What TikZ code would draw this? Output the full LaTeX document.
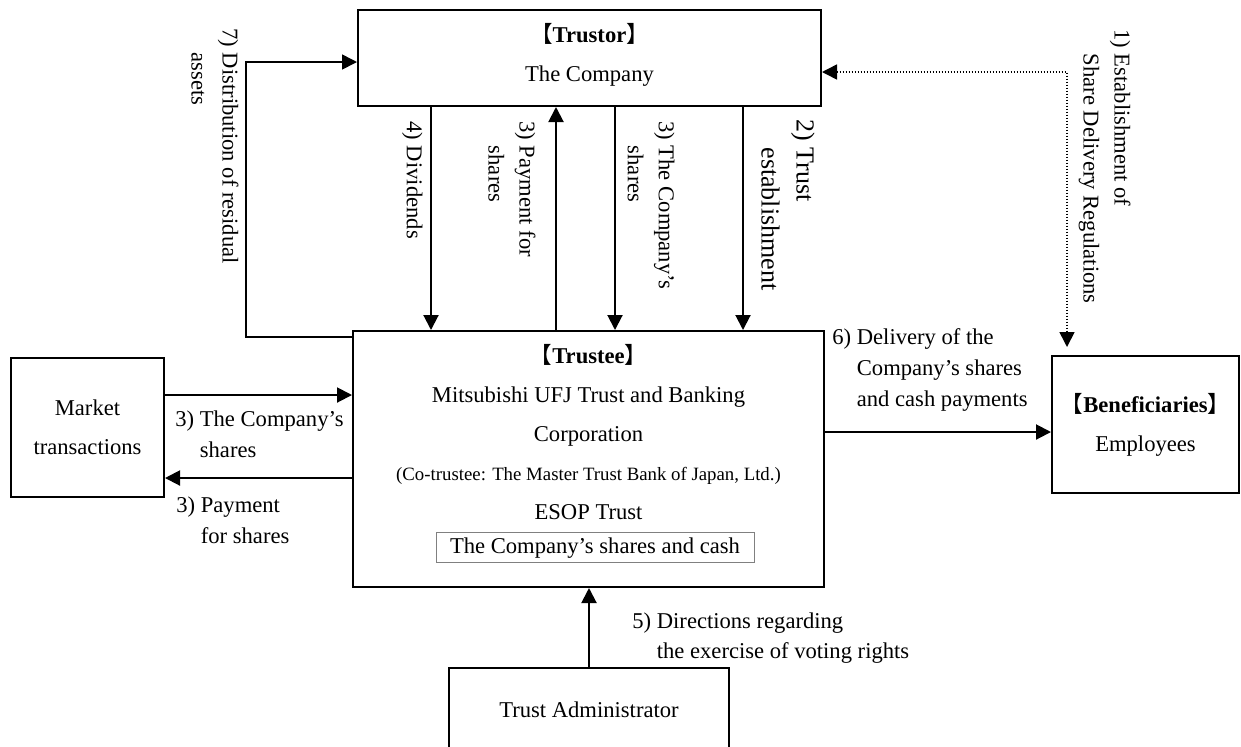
\documentclass[tikz,border=0pt]{standalone}
\usepackage{fontspec}
\setmainfont{Liberation Serif}
\newfontfamily\cjk[RawFeature=+halt]{Noto Sans CJK JP}
\usetikzlibrary{arrows.meta}
\usetikzlibrary{positioning}
\newcommand{\role}[1]{{\cjk 【}\textbf{#1}{\cjk 】}}

\begin{document}
\begin{tikzpicture}[x=0.5pt,y=-0.5pt,
  box/.style={draw,line width=1pt,align=center,inner sep=0pt,font=\fontsize{11.3}{19.5}\selectfont},
  boxtext/.style={align=center,inner sep=0pt,font=\fontsize{11.3}{19.5}\selectfont},
  arr/.style={line width=1pt,-{Triangle[length=7.5pt,width=7.5pt]}},
  dots/.style={line width=0.8pt,dash pattern=on 0.75pt off 0.75pt,{Triangle[length=7.5pt,width=7.5pt]}-{Triangle[length=7.5pt,width=7.5pt]}},
  lbl/.style={align=left,inner sep=0pt,anchor=north west,font=\fontsize{11.3}{15.5}\selectfont},
  vlbl/.style={lbl,rotate=-90}]
\useasboundingbox (0,0) rectangle (1241,746);
\clip (0,0) rectangle (1241,746);

\node[box,minimum width=231.5pt,minimum height=48pt] (trustor) at (589.5,58) {};
\node[boxtext,below=7pt of trustor.north] (trustortext) {\role{Trustor}\\The Company};
\node[box,minimum width=235.5pt,minimum height=128pt] (trustee) at (588.5,459) {};
\node[boxtext,below=7pt of trustee.north] (trusteetext)
  {\role{Trustee}\\Mitsubishi UFJ Trust and Banking\\Corporation\\{\fontsize{9.4}{19.5}\selectfont (Co-trustee: The Master Trust Bank of Japan, Ltd.)}\\ESOP Trust};
\node[boxtext,draw=gray,line width=0.5pt,minimum width=159pt,minimum height=15pt,below=6pt of trusteetext,xshift=3.25pt] (holdings) {The Company’s shares and cash};
\node[box,minimum width=76.5pt,minimum height=69.5pt] (market) at (87.5,427.5) {Market\\transactions};
\node[box,minimum width=93.5pt,minimum height=68.5pt] (benef) at (1145.5,424.5) {};
\node[boxtext,below=19pt of benef.north] (beneftext) {\role{Beneficiaries}\\Employees};
\node[box,minimum width=140pt,minimum height=42pt] (admin) at (589,710) {Trust Administrator};

\draw[arr] (trustor.south -| 431,0) -- (trustee.north -| 431,0);
\draw[arr] (trustee.north -| 556,0) -- (trustor.south -| 556,0);
\draw[arr] (trustor.south -| 615,0) -- (trustee.north -| 615,0);
\draw[arr] (trustor.south -| 743,0) -- (trustee.north -| 743,0);
\draw[arr,line width=0.8pt] (trustee.west |- 0,337) -- ++(-106,0) |- (trustor.west |- 0,62);
\draw[dots,shorten >=4pt] (trustor.east |- 0,72) -| (benef.north -| 1067,0);
\draw[arr] (market.east |- 0,395) -- (trustee.west |- 0,395);
\draw[arr] (trustee.west |- 0,478) -- (market.east |- 0,478);
\draw[arr] (trustee.east |- 0,432) -- (benef.west |- 0,432);
\draw[arr] (admin.north) -- (admin.north |- trustee.south);

\node[vlbl] (l7) at (239,28) {7) Distribution of residual\\\phantom{7) }assets};
\node[vlbl] (l4) at (423,121) {4) Dividends};
\node[vlbl] (l3pay) at (536,121) {3) Payment for\\\phantom{3) }shares};
\node[vlbl] (l3shr) at (675,121) {3) The Company’s\\\phantom{3) }shares};
\node[vlbl,font=\fontsize{13}{17.5}\selectfont] (l2) at (815,119) {2) Trust\\\phantom{2) }establishment};
\node[vlbl] (l1) at (1131,29) {1) Establishment of\\\phantom{1) }Share Delivery Regulations};
\node[lbl] (l3mkt) at (175,410) {3) The Company’s\\\phantom{3) }shares};
\node[lbl] (l3cash) at (176,496) {3) Payment\\\phantom{3) }for shares};
\node[lbl] (l6) at (832,328) {6) Delivery of the\\\phantom{6) }Company’s shares\\\phantom{6) }and cash payments};
\node[lbl,font=\fontsize{11.3}{15}\selectfont] (l5) at (632,612) {5) Directions regarding\\\phantom{5) }the exercise of voting rights};
\end{tikzpicture}
\end{document}
